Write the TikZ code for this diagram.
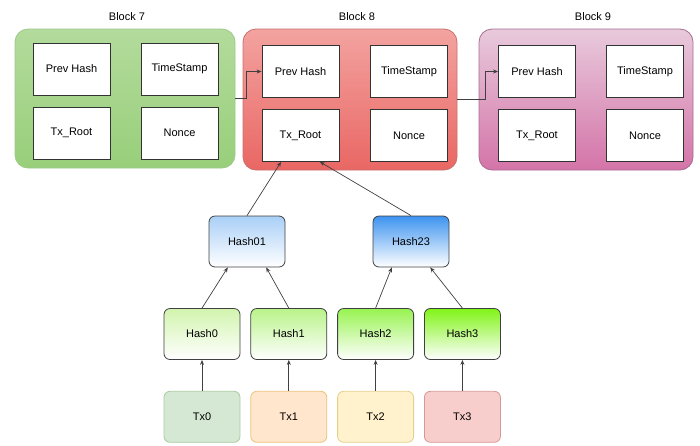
\documentclass[tikz,border=0pt]{standalone}
\usepackage{fontspec}
\setmainfont{Liberation Sans}
\usetikzlibrary{positioning, calc, arrows.meta}

\definecolor{g7top}{HTML}{B3DB9C}
\definecolor{g7bot}{HTML}{98CF7A}
\definecolor{g7line}{HTML}{9CC98A}
\definecolor{r8top}{HTML}{F3A3A0}
\definecolor{r8bot}{HTML}{E96764}
\definecolor{r8line}{HTML}{C9706C}
\definecolor{p9top}{HTML}{E8CADC}
\definecolor{p9bot}{HTML}{D474A8}
\definecolor{p9line}{HTML}{A86C92}
\definecolor{h01top}{HTML}{A9CFF7}
\definecolor{h23top}{HTML}{3D93F0}
\definecolor{h0top}{HTML}{D2F4AE}
\definecolor{h1top}{HTML}{B9F389}
\definecolor{h2top}{HTML}{98F350}
\definecolor{h3top}{HTML}{80F416}
\definecolor{tx0fill}{HTML}{D5E8D4}
\definecolor{tx0line}{HTML}{A9CBA0}
\definecolor{tx1fill}{HTML}{FFE6CC}
\definecolor{tx1line}{HTML}{EBC27A}
\definecolor{tx2fill}{HTML}{FFF2CC}
\definecolor{tx2line}{HTML}{E6CF8C}
\definecolor{tx3fill}{HTML}{F8CECC}
\definecolor{tx3line}{HTML}{D69896}

\tikzstyle{blockbox}=[rectangle, rounded corners=13pt, line width=0.8pt,
                      minimum width=214pt, minimum height=141pt, inner sep=0pt]
\tikzstyle{fieldbox}=[rectangle, draw=black!80, fill=white, line width=0.8pt,
                      minimum width=77pt, minimum height=52pt, inner sep=0pt]
\tikzstyle{hashbox}=[rectangle, rounded corners=6pt, draw=black!75, line width=0.8pt,
                     bottom color=white, minimum width=76pt, minimum height=51pt, inner sep=0pt]
\tikzstyle{txbox}=[rectangle, rounded corners=6pt, line width=0.8pt,
                   minimum width=76pt, minimum height=51pt, inner sep=0pt]
\tikzstyle{link}=[draw=black!75, line width=0.7pt, -{Stealth[length=5pt,width=4pt]}]

\begin{document}
\begin{tikzpicture}[x=1pt, y=-1pt, font=\fontsize{11}{13}\selectfont]
  \useasboundingbox (0,0) rectangle (700,445);

  % The three blocks of the chain
  \node[blockbox, draw=g7line, top color=g7top, bottom color=g7bot,
        minimum width=220pt, minimum height=139pt] (b7) at (125,98.5) {};
  \node[blockbox, draw=r8line, top color=r8top, bottom color=r8bot] (b8) at (350,99.5) {};
  \node[blockbox, draw=p9line, top color=p9top, bottom color=p9bot] (b9) at (586,99.5) {};

  \node (t7) at (127,17) {Block 7};
  \node (t8) at (357,17) {Block 8};
  \node (t9) at (593,17) {Block 9};

  % Header fields of each block
  \node[fieldbox] (ph7) at (71.5,69) {Prev Hash};
  \node[fieldbox] (ts7) at (179.5,69) {TimeStamp};
  \node[fieldbox] (tr7) at (71.5,133) {Tx\_Root};
  \node[fieldbox] (no7) at (179.5,133) {Nonce};

  \node[fieldbox] (ph8) at (300.5,71.5) {Prev Hash};
  \node[fieldbox] (ts8) at (409,71.5) {TimeStamp};
  \node[fieldbox] (tr8) at (300.5,135.5) {Tx\_Root};
  \node[fieldbox] (no8) at (409,135.5) {Nonce};

  \node[fieldbox] (ph9) at (537,71.5) {Prev Hash};
  \node[fieldbox] (ts9) at (645,71.5) {TimeStamp};
  \node[fieldbox] (tr9) at (537,135.5) {Tx\_Root};
  \node[fieldbox] (no9) at (645,135.5) {Nonce};

  % Links between blocks
  \draw[link] (b7.east) -- ++(11pt,0) |- (ph8.west);
  \draw[link] (b8.east) -- ++(28pt,0) |- (ph9.west);

  % Merkle tree: leaf hashes, then transactions below them
  \node[hashbox, top color=h0top] (h0) at (202,334) {Hash0};
  \node[hashbox, top color=h1top, right = 10pt of h0] (h1) {Hash1};
  \node[hashbox, top color=h2top, right = 10pt of h1] (h2) {Hash2};
  \node[hashbox, top color=h3top, right = 10pt of h2] (h3) {Hash3};

  \node[txbox, draw=tx0line, fill=tx0fill, below = 31pt of h0] (tx0) {Tx0};
  \node[txbox, draw=tx1line, fill=tx1fill, below = 31pt of h1] (tx1) {Tx1};
  \node[txbox, draw=tx2line, fill=tx2fill, below = 31pt of h2] (tx2) {Tx2};
  \node[txbox, draw=tx3line, fill=tx3fill, below = 31pt of h3] (tx3) {Tx3};

  \node[hashbox, top color=h01top] (h01) at (247,241.5) {Hash01};
  \node[hashbox, top color=h23top] (h23) at (411,241.5) {Hash23};

  \draw[link] (tx0.north) -- (h0.south);
  \draw[link] (tx1.north) -- (h1.south);
  \draw[link] (tx2.north) -- (h2.south);
  \draw[link] (tx3.north) -- (h3.south);

  \draw[link] (h0.north) -- ($(h01.south west)!.25!(h01.south east)$);
  \draw[link] (h1.north) -- ($(h01.south west)!.75!(h01.south east)$);
  \draw[link] (h2.north) -- ($(h23.south west)!.25!(h23.south east)$);
  \draw[link] (h3.north) -- ($(h23.south west)!.75!(h23.south east)$);

  \draw[link] (h01.north) -- ($(tr8.south west)!.25!(tr8.south east)$);
  \draw[link] (h23.north) -- ($(tr8.south west)!.75!(tr8.south east)$);
\end{tikzpicture}
\end{document}
